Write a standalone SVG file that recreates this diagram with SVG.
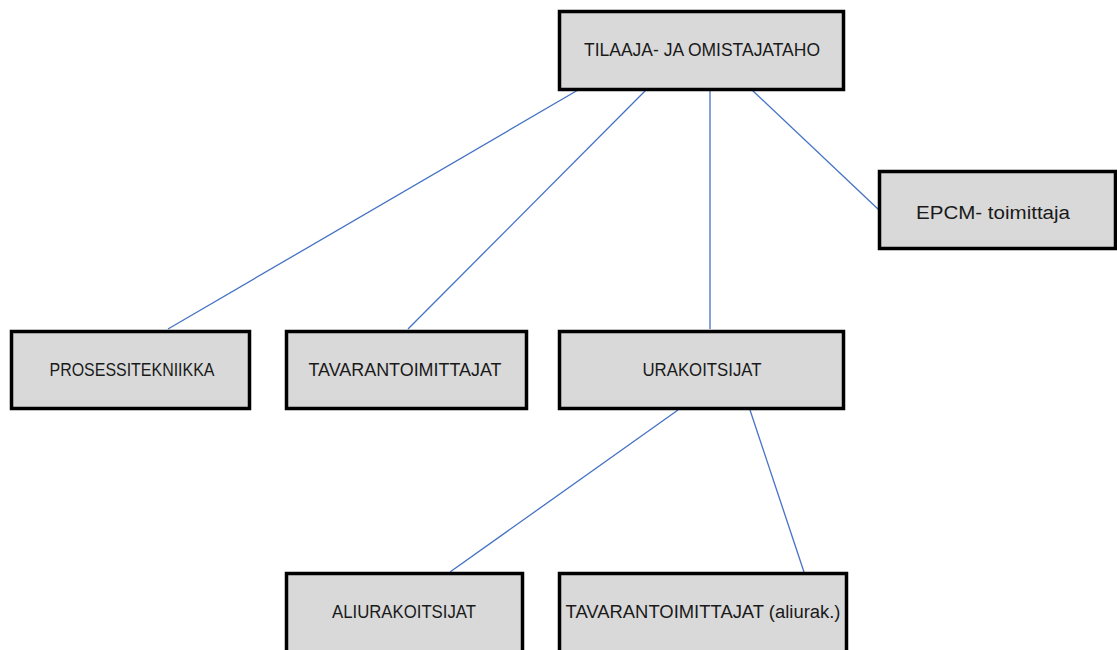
<svg xmlns="http://www.w3.org/2000/svg" width="1117" height="650" viewBox="0 0 1117 650">
<style>
.box{fill:#d9d9d9;stroke:#000;stroke-width:3.5}
.lbl{font-family:"Liberation Sans",Arial,sans-serif;font-size:18px;fill:#1a1a1a;text-anchor:middle;dominant-baseline:central}
.con{stroke:#4472c4;stroke-width:1.3;fill:none}
</style>
<rect width="1117" height="650" fill="#fff"/>
<g id="connectors">
<line class="con" x1="578" y1="90" x2="168" y2="329"/>
<line class="con" x1="646" y1="90" x2="408" y2="329"/>
<line class="con" x1="710" y1="90" x2="710" y2="329"/>
<line class="con" x1="752" y1="90" x2="879" y2="210"/>
<line class="con" x1="678" y1="410" x2="450" y2="572"/>
<line class="con" x1="750" y1="410" x2="804" y2="572"/>
</g>
<g id="n-tilaaja"><rect class="box" x="559.5" y="11.5" width="284" height="78"/><text class="lbl" x="702" y="50" textLength="236" lengthAdjust="spacingAndGlyphs">TILAAJA- JA OMISTAJATAHO</text></g>
<g id="n-epcm"><rect class="box" x="879.5" y="171.5" width="236" height="77"/><text class="lbl" x="993" y="213" textLength="154" lengthAdjust="spacingAndGlyphs">EPCM- toimittaja</text></g>
<g id="n-prosessi"><rect class="box" x="11.5" y="331.5" width="238" height="77"/><text class="lbl" x="132" y="370" textLength="165" lengthAdjust="spacingAndGlyphs">PROSESSITEKNIIKKA</text></g>
<g id="n-tavara"><rect class="box" x="286.5" y="331.5" width="240" height="77"/><text class="lbl" x="405" y="370" textLength="193" lengthAdjust="spacingAndGlyphs">TAVARANTOIMITTAJAT</text></g>
<g id="n-urakoitsijat"><rect class="box" x="559.5" y="331.5" width="284" height="77"/><text class="lbl" x="702" y="370" textLength="119" lengthAdjust="spacingAndGlyphs">URAKOITSIJAT</text></g>
<g id="n-aliurak"><rect class="box" x="286.5" y="573.5" width="236" height="80"/><text class="lbl" x="404" y="612" textLength="144" lengthAdjust="spacingAndGlyphs">ALIURAKOITSIJAT</text></g>
<g id="n-tavara-aliurak"><rect class="box" x="559.5" y="573.5" width="287" height="80"/><text class="lbl" x="703" y="612" textLength="275" lengthAdjust="spacingAndGlyphs">TAVARANTOIMITTAJAT (aliurak.)</text></g>
</svg>
